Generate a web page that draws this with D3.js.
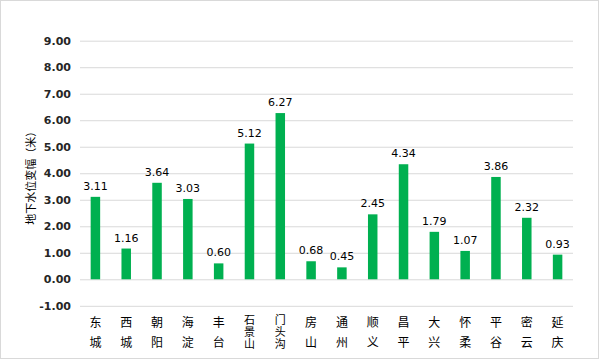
<!DOCTYPE html>
<html>
<head>
<meta charset="utf-8">
<script src="https://cdn.jsdelivr.net/npm/d3@7/dist/d3.min.js"></script>
<style>
  html, body { margin: 0; padding: 0; background: #fff; }
  svg { display: block; }
</style>
</head>
<body>
<div id="chart"></div>
<script>
const categories = ["东城","西城","朝阳","海淀","丰台","石景山","门头沟","房山","通州","顺义","昌平","大兴","怀柔","平谷","密云","延庆"];
const values = [3.11,1.16,3.64,3.03,0.60,5.12,6.27,0.68,0.45,2.45,4.34,1.79,1.07,3.86,2.32,0.93];
const yTicks = [-1,0,1,2,3,4,5,6,7,8,9];
const yTitle = "地下水位变幅（米）";

const W = 600, H = 360;
const plot = { left: 80, right: 573, top: 40.7, bottom: 305.8 };

const svg = d3.select("#chart").append("svg").attr("width", W).attr("height", H);

svg.append("rect").attr("x", 0.5).attr("y", 0.5).attr("width", W - 2).attr("height", H - 2)
  .attr("fill", "#fff").attr("stroke", "#d9d9d9").attr("stroke-width", 1);

const x = d3.scaleBand().domain(categories).range([plot.left, plot.right]).paddingInner(0).paddingOuter(0);
const y = d3.scaleLinear().domain([-1, 9]).range([plot.bottom, plot.top]);

// gridlines
const grid = svg.append("g").attr("transform", `translate(${plot.left},0)`)
  .call(d3.axisLeft(y).tickValues(yTicks).tickSize(-(plot.right - plot.left)).tickFormat(""));
grid.select(".domain").remove();
grid.selectAll("line").attr("stroke", "#d9d9d9").attr("stroke-width", 1);

// y axis labels
const fmt = d3.format(".2f");
const yAxis = svg.append("g").attr("transform", `translate(${plot.left - 9},0)`)
  .call(d3.axisLeft(y).tickValues(yTicks).tickSize(0).tickPadding(0)
    .tickFormat(d => fmt(d).replace("\u2212", "-")));
yAxis.select(".domain").remove();
yAxis.selectAll("text")
  .attr("font-family", "DejaVu Sans, sans-serif")
  .attr("font-size", 11).attr("font-weight", "bold").attr("fill", "#262626");

// y title
svg.append("text")
  .attr("transform", `translate(30,${(plot.top + plot.bottom) / 2 + 2}) rotate(-90)`)
  .attr("text-anchor", "middle").attr("dominant-baseline", "central")
  .attr("font-family", "Noto Sans CJK SC, sans-serif").attr("font-size", 11).attr("fill", "#000")
  .text(yTitle);

const bw = 9.5;
const data = categories.map((c, i) => ({ c, v: values[i] }));

svg.append("g").selectAll("rect").data(data).join("rect")
  .attr("x", d => x(d.c) + x.bandwidth() / 2 - bw / 2)
  .attr("y", d => y(Math.max(0, d.v)))
  .attr("width", bw)
  .attr("height", d => Math.abs(y(d.v) - y(0)))
  .attr("fill", "#00b050");

svg.append("g").selectAll("text").data(data).join("text")
  .attr("x", d => x(d.c) + x.bandwidth() / 2)
  .attr("y", d => y(d.v) - 7)
  .attr("text-anchor", "middle")
  .attr("font-family", "DejaVu Sans, sans-serif").attr("font-size", 11).attr("fill", "#000")
  .text(d => d.v.toFixed(2));

// category labels, vertical text (one text element per label)
const isLong = d => Array.from(d.c).length >= 3;
svg.append("g").selectAll("text").data(data).join("text")
  .attr("x", d => x(d.c) + x.bandwidth() / 2)
  .attr("y", d => isLong(d) ? 314.5 : 316)
  .attr("text-anchor", "start")
  .style("writing-mode", "vertical-rl")
  .style("letter-spacing", d => isLong(d) ? "1px" : "8px")
  .attr("font-family", "Noto Sans CJK SC, sans-serif")
  .attr("font-size", d => isLong(d) ? 11 : 12)
  .attr("fill", "#000")
  .text(d => d.c);
</script>
</body>
</html>
